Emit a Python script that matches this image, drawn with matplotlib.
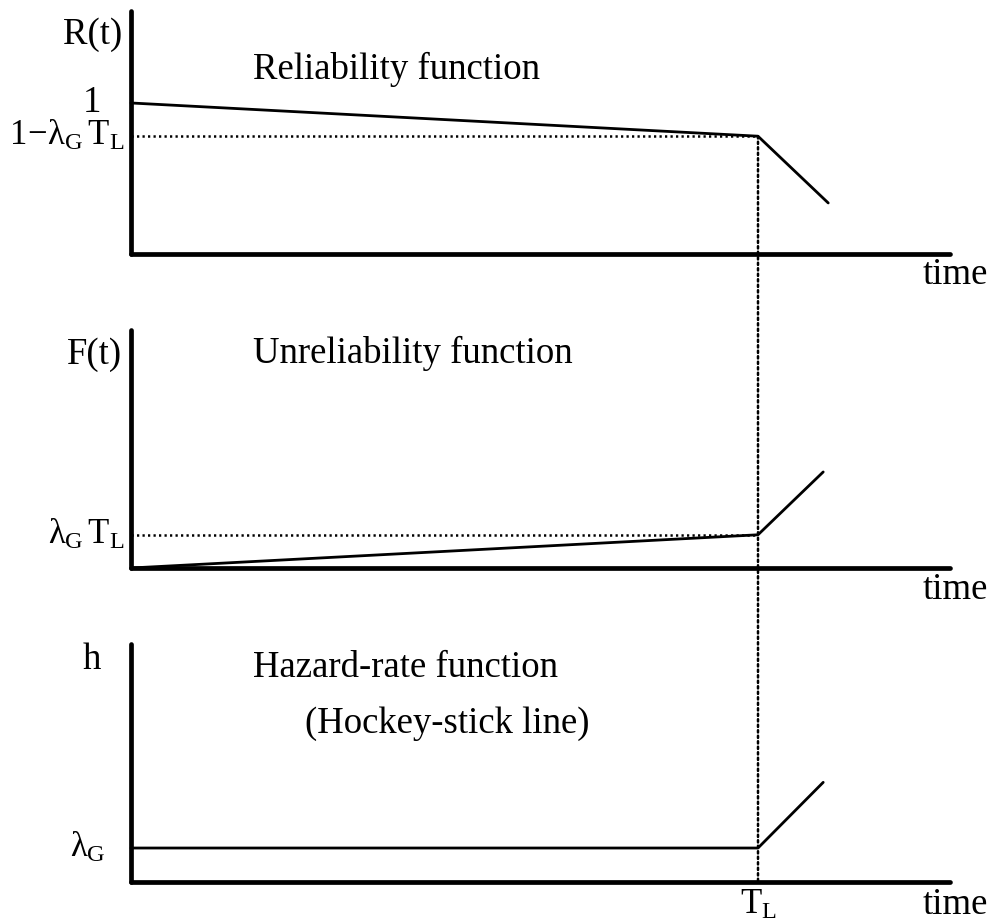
import matplotlib
matplotlib.use("Agg")
import matplotlib.pyplot as plt
from matplotlib.patches import ConnectionPatch

plt.rcParams['font.family'] = ['Liberation Serif', 'DejaVu Serif']
plt.rcParams['mathtext.fontset'] = 'custom'
plt.rcParams['mathtext.rm'] = 'Liberation Serif'
plt.rcParams['mathtext.it'] = 'Liberation Serif'
plt.rcParams['mathtext.bf'] = 'Liberation Serif'

# ---- data (t in units of T_L) ----
T_L = 1.0
lam_TL = 0.22
rel_t = [0.0, T_L, 1.112]
rel_v = [1.0, 1.0 - lam_TL, 0.338]
unrel_t = [0.0, T_L, 1.104]
unrel_v = [0.0, lam_TL, 0.636]
haz_t = [0.0, T_L, 1.104]
haz_v = [0.225, 0.225, 0.66]

panel_titles = ["Reliability function", "Unreliability function", "Hazard-rate function"]
ylabels = ["R(t)", "F(t)", "h"]
xlabel = "time"

FS = 26.5
FSM = 25
W, H = 995, 921
fig = plt.figure(figsize=(W / 100, H / 100), dpi=100)

def frac_rect(left, right, top, bottom):
    return [left / W, 1 - bottom / H, (right - left) / W, (bottom - top) / H]

ax1 = fig.add_axes(frac_rect(131, 950, 11, 254))
ax2 = fig.add_axes(frac_rect(131, 950, 330, 568))
ax3 = fig.add_axes(frac_rect(131, 950, 644, 882))

xmax = (950 - 131) / 627
for ax, top in zip([ax1, ax2, ax3], [1.609, 1.576, 1.576]):
    ax.set_xlim(0, xmax)
    ax.set_ylim(0, top)
    for s in ['top', 'right']:
        ax.spines[s].set_visible(False)
    for s in ['left', 'bottom']:
        ax.spines[s].set_linewidth(3.4)
        ax.spines[s].set_capstyle('round')
    ax.set_xticks([])
    ax.set_yticks([])
    ax.patch.set_alpha(0)

LW = 2.0
DOT = dict(color='black', lw=1.8, linestyle=(0, (0.9, 1.3)))
TX = (988 - 131) / 627  # right edge of "time" labels

# Panel 1
ax1.plot(rel_t, rel_v, color='black', lw=LW, solid_capstyle='round', clip_on=False)
ax1.plot([0, T_L], [1 - lam_TL, 1 - lam_TL], **DOT)
ax1.text(-0.014, 1.45, ylabels[0], ha='right', va='center', fontsize=FS)
ax1.text(-0.062, 1.0, "1", ha='center', va='center', fontsize=FS)
ax1.text(-0.011, 1 - lam_TL, r"$1\!-\!\lambda_{\mathrm{G}}\,\mathrm{T}_{\mathrm{L}}$", ha='right', va='center', fontsize=FSM)
ax1.text(0.195, 1.22, panel_titles[0], ha='left', va='center', fontsize=FS)
ax1.text(TX, -0.14, xlabel, ha='right', va='center', fontsize=FS, clip_on=False)

# Panel 2
ax2.plot(unrel_t, unrel_v, color='black', lw=LW, solid_capstyle='round', clip_on=False)
ax2.plot([0, T_L], [lam_TL, lam_TL], **DOT)
ax2.text(-0.014, 1.41, ylabels[1], ha='right', va='center', fontsize=FS)
ax2.text(-0.011, lam_TL, r"$\lambda_{\mathrm{G}}\,\mathrm{T}_{\mathrm{L}}$", ha='right', va='center', fontsize=FSM)
ax2.text(0.195, 1.42, panel_titles[1], ha='left', va='center', fontsize=FS)
ax2.text(TX, -0.146, xlabel, ha='right', va='center', fontsize=FS, clip_on=False)

# Panel 3
ax3.plot(haz_t, haz_v, color='black', lw=LW, solid_capstyle='round', clip_on=False)
ax3.text(-0.062, 1.47, ylabels[2], ha='center', va='center', fontsize=FS)
ax3.text(-0.041, haz_v[0], r"$\lambda_{\mathrm{G}}$", ha='right', va='center', fontsize=FSM)
ax3.text(0.195, 1.42, panel_titles[2], ha='left', va='center', fontsize=FS)
ax3.text(0.278, 1.05, "(Hockey-stick line)", ha='left', va='center', fontsize=FS)
ax3.text(T_L, -0.152, r"$\mathrm{T}_{\mathrm{L}}$", ha='center', va='center', fontsize=FSM, clip_on=False)
ax3.text(TX, -0.152, xlabel, ha='right', va='center', fontsize=FS, clip_on=False)

# vertical dotted line at T_L spanning all panels
con = ConnectionPatch(xyA=(T_L, 1 - lam_TL), coordsA=ax1.transData,
                      xyB=(T_L, 0), coordsB=ax3.transData, **DOT)
fig.add_artist(con)

fig.savefig("out.png", dpi=100, facecolor='white')
